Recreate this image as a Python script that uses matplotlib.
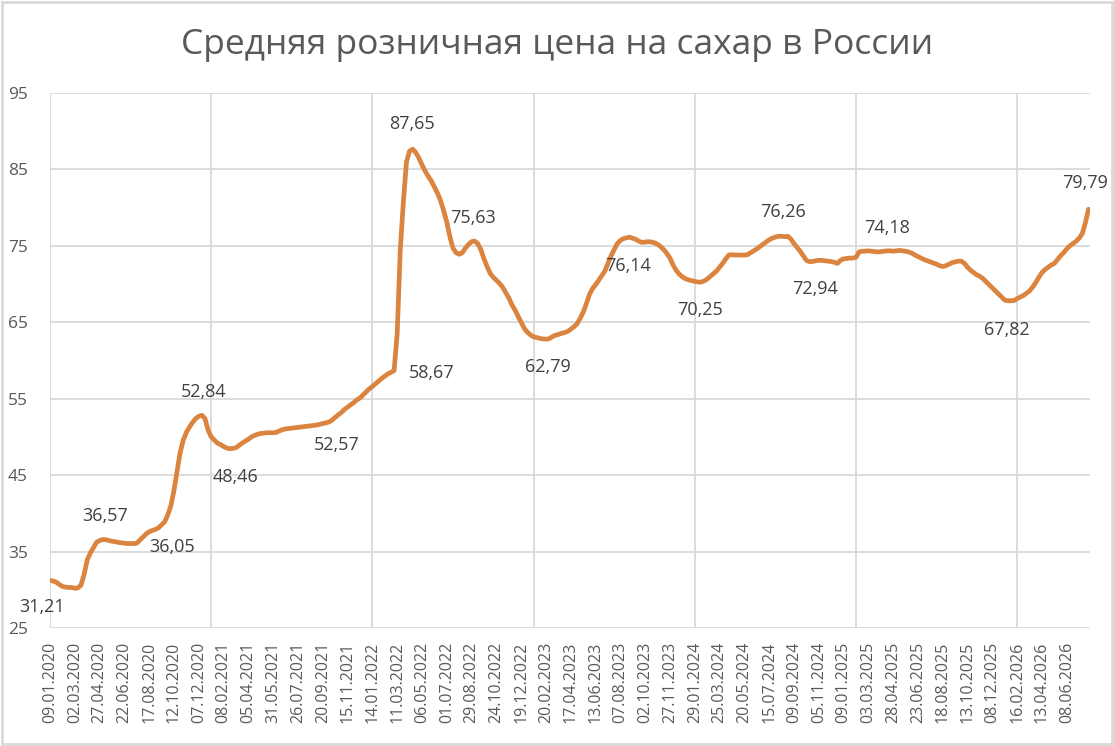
import matplotlib
matplotlib.use("Agg")
import matplotlib.pyplot as plt
from matplotlib.patches import Rectangle

plt.rcParams['font.family'] = ['Open Sans', 'DejaVu Sans']

title = "Средняя розничная цена на сахар в России"

# weekly average retail price of sugar, rub/kg
prices = [
    31.21, 31.15, 31.0, 30.7, 30.45, 30.35, 30.3, 30.3,
    30.2, 30.25, 30.6, 32.0, 33.9, 34.8, 35.5, 36.2,
    36.45, 36.57, 36.55, 36.45, 36.35, 36.3, 36.2, 36.15,
    36.1, 36.05, 36.05, 36.05, 36.1, 36.5, 36.9, 37.3,
    37.6, 37.75, 37.9, 38.1, 38.5, 38.9, 39.8, 41.0,
    43.0, 45.5, 48.0, 49.6, 50.6, 51.3, 51.9, 52.4,
    52.7, 52.84, 52.4, 50.9, 50.0, 49.6, 49.2, 49.0,
    48.75, 48.55, 48.46, 48.5, 48.6, 48.9, 49.2, 49.45,
    49.7, 50.0, 50.2, 50.35, 50.45, 50.5, 50.55, 50.55,
    50.55, 50.6, 50.8, 50.95, 51.05, 51.1, 51.15, 51.2,
    51.25, 51.3, 51.35, 51.4, 51.45, 51.5, 51.55, 51.65,
    51.75, 51.85, 51.95, 52.2, 52.57, 52.9, 53.2, 53.6,
    53.9, 54.2, 54.5, 54.85, 55.1, 55.5, 55.9, 56.3,
    56.6, 56.95, 57.3, 57.65, 57.95, 58.25, 58.45, 58.67,
    63.5, 74.5, 80.8, 86.0, 87.4, 87.65, 87.2, 86.5,
    85.6, 84.8, 84.1, 83.5, 82.7, 81.9, 80.9, 79.6,
    78.1, 76.2, 74.7, 74.1, 73.9, 74.1, 74.7, 75.2,
    75.55, 75.63, 75.3, 74.5, 73.3, 72.3, 71.4, 70.9,
    70.5, 70.1, 69.6, 68.9, 68.2, 67.3, 66.6, 65.8,
    65.0, 64.2, 63.7, 63.35, 63.1, 63.0, 62.9, 62.82,
    62.79, 62.85, 63.1, 63.3, 63.4, 63.55, 63.65, 63.8,
    64.1, 64.4, 64.8, 65.5, 66.3, 67.4, 68.6, 69.4,
    69.9, 70.5, 71.1, 71.7, 72.7, 73.7, 74.5, 75.3,
    75.7, 75.95, 76.05, 76.14, 76.0, 75.85, 75.6, 75.45,
    75.5, 75.55, 75.5, 75.4, 75.2, 74.9, 74.5, 74.0,
    73.4, 72.5, 71.8, 71.3, 70.95, 70.7, 70.55, 70.45,
    70.35, 70.27, 70.25, 70.4, 70.65, 71.0, 71.35, 71.7,
    72.2, 72.7, 73.3, 73.8, 73.85, 73.8, 73.8, 73.8,
    73.8, 73.85, 74.1, 74.35, 74.6, 74.9, 75.2, 75.5,
    75.8, 76.0, 76.15, 76.26, 76.25, 76.2, 76.25, 75.9,
    75.3, 74.8, 74.3, 73.7, 73.1, 72.94, 72.95, 73.05,
    73.1, 73.1, 73.05, 73.0, 72.95, 72.85, 72.7, 73.1,
    73.3, 73.35, 73.4, 73.4, 73.5, 74.2, 74.3, 74.3,
    74.35, 74.3, 74.25, 74.2, 74.25, 74.3, 74.35, 74.35,
    74.3, 74.35, 74.4, 74.35, 74.3, 74.2, 74.05, 73.8,
    73.6, 73.4, 73.2, 73.05, 72.9, 72.75, 72.6, 72.4,
    72.3, 72.4, 72.6, 72.8, 72.9, 73.0, 73.0, 72.7,
    72.2, 71.8, 71.5, 71.2, 71.0, 70.7, 70.3, 69.9,
    69.5, 69.1, 68.7, 68.3, 67.9, 67.82, 67.82, 67.85,
    68.1, 68.3, 68.5, 68.8, 69.1, 69.6, 70.2, 70.9,
    71.5, 71.9, 72.2, 72.5, 72.7, 73.2, 73.7, 74.1,
    74.6, 75.0, 75.3, 75.6, 76.0, 76.6, 78.0, 79.79,
]

# category labels shown on the axis (every 8th week)
tick_labels = [
    "09.01.2020", "02.03.2020", "27.04.2020", "22.06.2020", "17.08.2020",
    "12.10.2020", "07.12.2020", "08.02.2021", "05.04.2021", "31.05.2021",
    "26.07.2021", "20.09.2021", "15.11.2021", "14.01.2022", "11.03.2022",
    "06.05.2022", "01.07.2022", "29.08.2022", "24.10.2022", "19.12.2022",
    "20.02.2023", "17.04.2023", "13.06.2023", "07.08.2023", "02.10.2023",
    "27.11.2023", "29.01.2024", "25.03.2024", "20.05.2024", "15.07.2024",
    "09.09.2024", "05.11.2024", "09.01.2025", "03.03.2025", "28.04.2025",
    "23.06.2025", "18.08.2025", "13.10.2025", "08.12.2025", "16.02.2026",
    "13.04.2026", "08.06.2026",
]

# annotated values
label_texts = ["31,21", "36,57", "36,05", "52,84", "48,46", "52,57", "58,67",
               "87,65", "75,63", "62,79", "76,14", "70,25", "76,26", "72,94",
               "74,18", "67,82", "79,79"]
label_x = [-2.6, 17.7, 39.4, 49.4, 59.7, 92.6, 123.2, 116.8, 136.5, 160.6,
           186.5, 209.7, 236.5, 246.8, 270.0, 308.7, 333.9]
label_y = [27.7, 39.6, 35.6, 55.9, 44.7, 49.0, 58.3, 90.9, 78.7, 59.2,
           72.4, 66.6, 79.4, 69.3, 77.4, 64.0, 83.2]

W, H = 1114, 746
fig = plt.figure(figsize=(W / 100, H / 100), dpi=100)
fig.patch.set_facecolor("white")
fig.add_artist(Rectangle((0.002, 0.003), 0.996, 0.994, transform=fig.transFigure,
                         fill=False, edgecolor="#d9d9d9", linewidth=2.0))

left, right, top, bottom = 50, 1090, 93, 628
ax = fig.add_axes([left / W, 1 - bottom / H, (right - left) / W, (bottom - top) / H])

x = list(range(len(prices)))
ax.plot(x, prices, color="#DA8440", linewidth=3.4, solid_joinstyle="round",
        solid_capstyle="round", zorder=3)

ax.set_xlim(0, 335.5)
ax.set_ylim(25, 95)
ax.set_yticks(range(25, 96, 10))
ax.set_xticks(range(0, 8 * len(tick_labels), 8))
ax.set_xticklabels(tick_labels, rotation=90, fontsize=11.5, color="#595959")
ax.tick_params(axis="x", length=0, pad=10)
ax.tick_params(axis="y", length=0, pad=16, labelsize=12.5, labelcolor="#595959")

for v in range(25, 96, 10):
    ax.axhline(v, color="#d9d9d9", linewidth=1.3, zorder=1)
for g in range(0, 336, 52):
    ax.axvline(g, color="#d9d9d9", linewidth=1.3, zorder=1)
for s in ax.spines.values():
    s.set_visible(False)

for t, lx, ly in zip(label_texts, label_x, label_y):
    ax.text(lx, ly, t, ha="center", va="center", fontsize=13, color="#404040",
            clip_on=False, zorder=4)

fig.text(557 / W, 1 - 45 / H, title, ha="center", va="center", fontsize=25.5,
         color="#595959")

fig.savefig("out.png", dpi=100, facecolor="white")
